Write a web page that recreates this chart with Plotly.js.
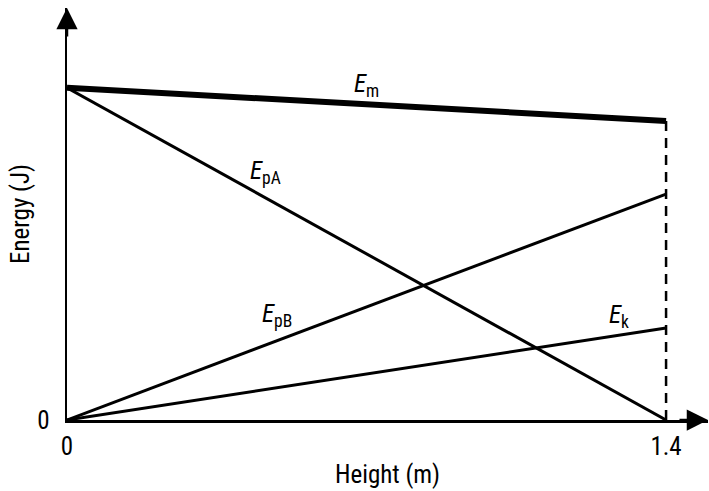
<!DOCTYPE html>
<html>
<head>
<meta charset="utf-8">
<script src="https://cdn.plot.ly/plotly-3.0.1.min.js"></script>
<style>html,body{margin:0;padding:0;background:#fff;}#chart{width:709px;height:491px;}</style>
</head>
<body>
<div id="chart"></div>
<script>
// Data (energy in arbitrary units, height in m)
const heights = [0, 1.4];
const Em = [10, 9.0];
const EpA = [10, 0];
const EpB = [0, 6.8];
const Ek = [0, 2.77];
const xTickVals = [0, 1.4];
const xTickText = ['0', '1.4'];
const yTickVals = [0];
const yTickText = ['0'];
const labelNames = ['<i>E</i><sub>m</sub>', '<i>E</i><sub>p</sub><sub>A</sub>', '<i>E</i><sub>p</sub><sub>B</sub>', '<i>E</i><sub>k</sub>'];

const FONT = '"Liberation Sans Narrow", "Roboto Condensed", "Liberation Sans", Arial, sans-serif';
const xMax = 1.498, yMax = 12.4;

const lineTrace = (y, w, dash) => ({
  x: heights, y: y, mode: 'lines', type: 'scatter', hoverinfo: 'skip',
  line: {color: '#000', width: w, dash: dash || 'solid'}, cliponaxis: false
});

const traces = [
  lineTrace(Em, 6),
  lineTrace(EpA, 3),
  lineTrace(EpB, 3),
  lineTrace(Ek, 3),
  {x: [heights[1], heights[1]], y: [0, Em[1]], mode: 'lines', type: 'scatter', hoverinfo: 'skip',
   line: {color: '#000', width: 2.5, dash: '10px,7px'}}
];

const labelPos = [[0.70, 10.09], [0.463, 7.45], [0.49, 3.15], [1.29, 3.12]];
const annotations = labelNames.map((t, i) => ({
  x: labelPos[i][0], y: labelPos[i][1], text: t, showarrow: false,
  font: {family: FONT, size: 25, color: '#000'}
}));
// axis arrowheads
annotations.push({x: 0, y: yMax, ax: 0, ay: 30, axref: 'pixel', ayref: 'pixel', text: '',
  showarrow: true, arrowhead: 2, arrowsize: 1.7, arrowwidth: 2.5, arrowcolor: '#000', standoff: 0});
annotations.push({x: xMax, y: 0, ax: -30, ay: 0, axref: 'pixel', ayref: 'pixel', text: '',
  showarrow: true, arrowhead: 2, arrowsize: 1.7, arrowwidth: 2.5, arrowcolor: '#000', standoff: 0});

const layout = {
  width: 709, height: 491,
  margin: {l: 67, r: 1, t: 8, b: 71},
  paper_bgcolor: '#fff', plot_bgcolor: '#fff',
  showlegend: false,
  font: {family: FONT, size: 24, color: '#000'},
  xaxis: {
    range: [0, xMax], showgrid: false, zeroline: false,
    showline: true, linecolor: '#000', linewidth: 2.5,
    tickvals: xTickVals, ticktext: xTickText, ticks: '', ticklabelstandoff: 2,
    tickfont: {family: FONT, size: 25},
    title: {text: 'Height (m)', font: {family: FONT, size: 25}, standoff: 6},
    fixedrange: true
  },
  yaxis: {
    range: [0, yMax], showgrid: false, zeroline: false,
    showline: true, linecolor: '#000', linewidth: 2.5,
    tickvals: yTickVals, ticktext: yTickText, ticks: '', ticklabelstandoff: 10,
    tickfont: {family: FONT, size: 25},
    title: {text: 'Energy (J)', font: {family: FONT, size: 25}, standoff: 1},
    fixedrange: true
  },
  annotations: annotations
};

Plotly.newPlot('chart', traces, layout, {displayModeBar: false, staticPlot: true});
</script>
</body>
</html>
